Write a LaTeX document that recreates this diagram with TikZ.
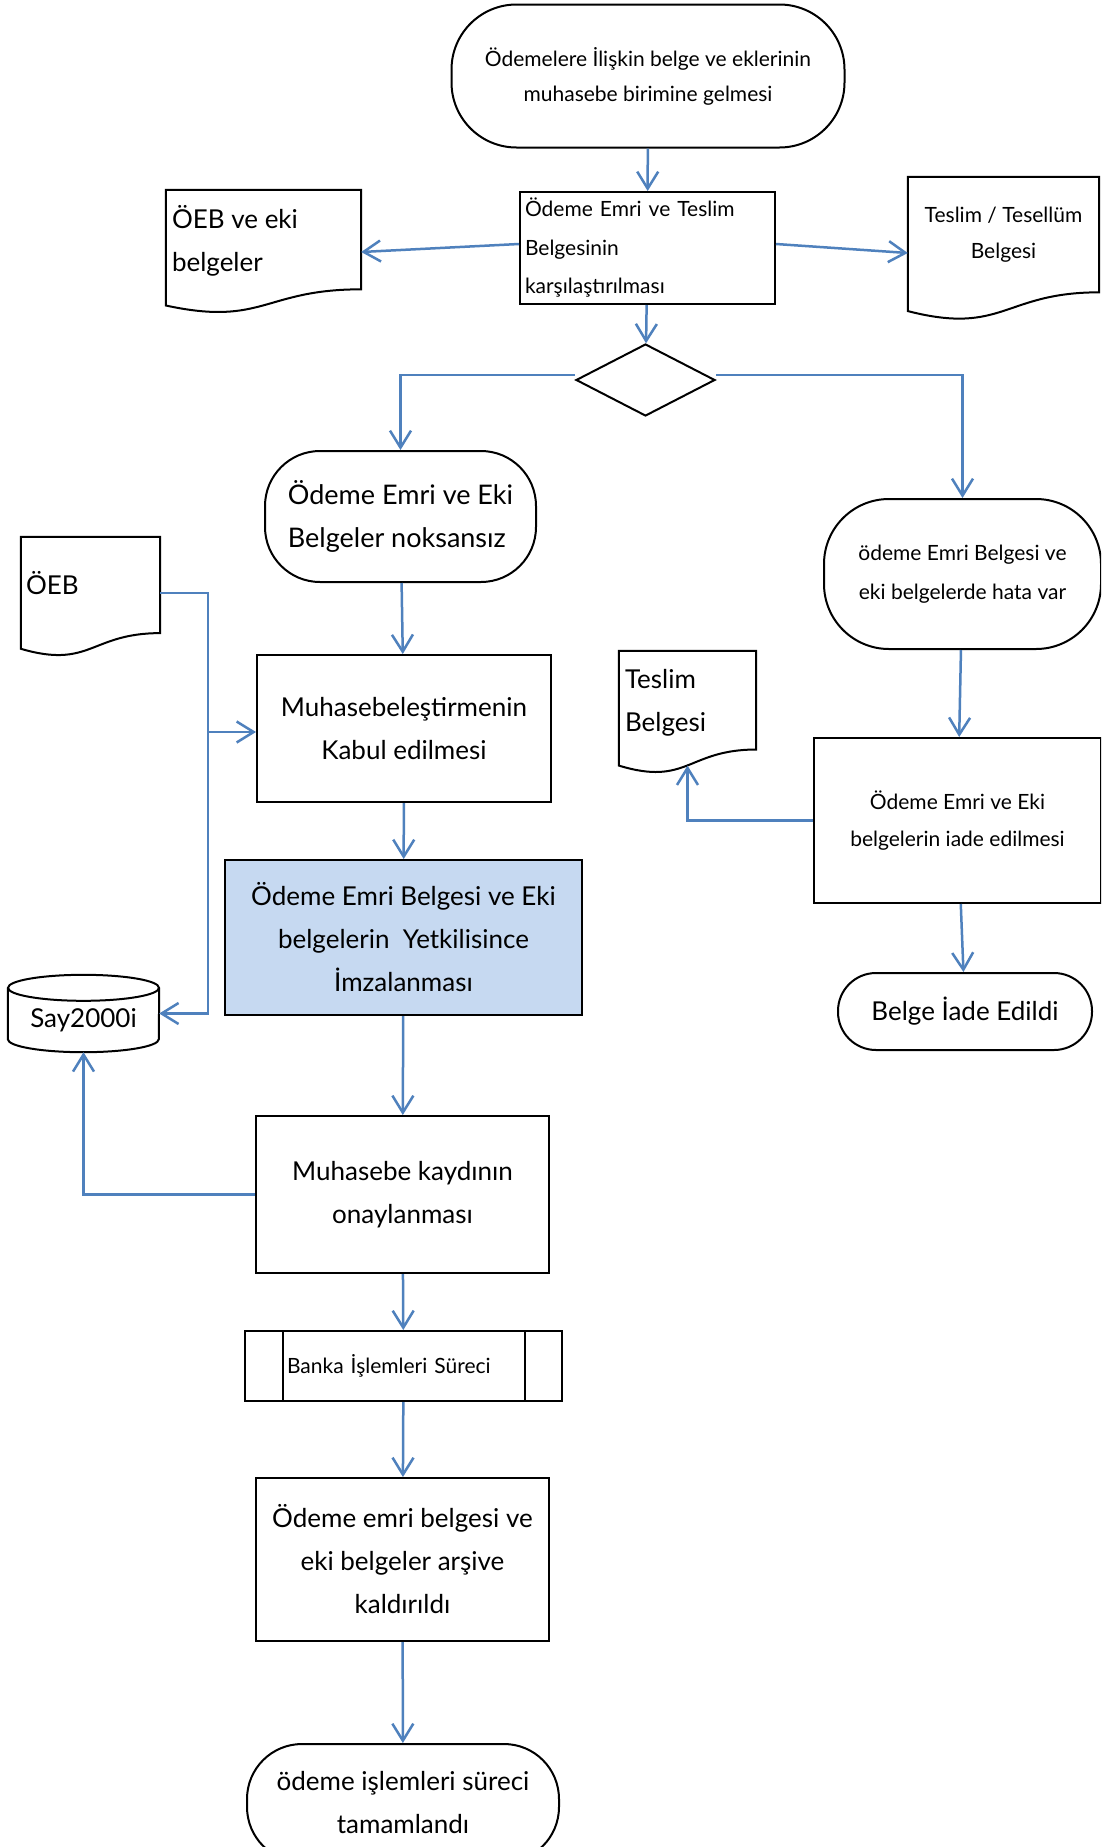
\documentclass[tikz,border=0pt]{standalone}
\usepackage{fontspec}
\setmainfont{Lato}
\usepackage{tikz}
\usetikzlibrary{arrows.meta,positioning,shapes.geometric,calc}

\definecolor{flowblue}{HTML}{4F81BD}
\definecolor{signfill}{HTML}{C6D9F1}

\begin{document}
\begin{tikzpicture}[
    x=1pt, y=-1pt,
    bigtxt/.style={font=\fontsize{26}{43}\selectfont},
    smalltxt/.style={font=\fontsize{21}{37}\selectfont},
    term/.style={draw, line width=2pt, rounded corners=#1, align=center},
    box/.style={draw, line width=2pt, align=center},
    docu/.style={inner sep=0pt},
    arr/.style={-{Straight Barb[length=17pt, width=21pt]}, draw=flowblue, line width=2.5pt},
  ]
    \fill[white] (0,0) rectangle (1101,1847);
    \path[use as bounding box] (0,0) rectangle (1101,1847);
    \clip (0,0) rectangle (1101,1847);

    % start and comparison
    \node[term=65pt, minimum width=393pt, minimum height=143pt,
      font=\fontsize{21}{35}\selectfont] (start) at (648,76)
      {Ödemelere İlişkin belge ve eklerinin\\muhasebe birimine gelmesi};
    \node[box, align=left, text width=245pt, inner xsep=5pt, minimum height=112pt,
      font=\fontsize{21}{38.5}\selectfont] (cmp) at (647.5,248)
      {Ödeme Emri ve Teslim\\Belgesinin\\karşılaştırılması};

    % documents
    \node[docu, minimum width=195pt, minimum height=124pt] (eki) at (263.5,252) {};
    \node[bigtxt, anchor=north west, inner sep=0pt, align=left] (ekitxt)
      at ([shift={(6pt,-15pt)}]eki.north west) {ÖEB ve eki\\belgeler};
    \node[docu, minimum width=191pt, minimum height=144pt] (tt) at (1003.5,249) {};
    \node[anchor=north, inner sep=0pt, align=center, font=\fontsize{21}{36.5}\selectfont] (tttxt)
      at ([yshift=-30pt]tt.north) {Teslim / Tesellüm\\Belgesi};
    \node[docu, minimum width=139pt, minimum height=120pt] (oeb) at (90.5,597) {};
    \node[bigtxt, anchor=north west, inner sep=0pt] (oebtxt)
      at ([shift={(5pt,-34pt)}]oeb.north west) {ÖEB};
    \node[docu, minimum width=137pt, minimum height=123pt] (tb) at (687.5,712.5) {};
    \node[bigtxt, anchor=north west, inner sep=0pt, align=left] (tbtxt)
      at ([shift={(6pt,-18pt)}]tb.north west) {Teslim\\Belgesi};
    \foreach \d in {eki,tt,oeb,tb}{
      \draw[line width=2pt] (\d.north west) -- (\d.north east) -- ($(\d.north east)!0.8!(\d.south east)$)
        .. controls ($(\d.north)!0.8!(\d.south)$) and ($(\d.north)!1.1!(\d.south)$)
        .. ($(\d.north west)!0.93!(\d.south west)$) -- cycle;
    }

    % decision
    \node[draw, diamond, line width=2pt, minimum width=139pt, minimum height=72pt,
      inner sep=0pt] (dec) at (645.5,380) {};
    \node[term=55pt, minimum width=271pt, minimum height=131pt, align=left,
      font=\fontsize{27}{43.5}\selectfont] (nok) at (400.5,516.5)
      {Ödeme Emri ve Eki\\Belgeler noksansız};
    \node[term=65pt, minimum width=277pt, minimum height=150pt,
      font=\fontsize{21}{39}\selectfont] (hata) at (962.5,574)
      {ödeme Emri Belgesi ve\\eki belgelerde hata var};

    % main column
    \node[box, bigtxt, minimum width=294pt, minimum height=147pt] (muh) at (404,728.5)
      {Muhasebeleştirmenin\\Kabul edilmesi};
    \node[box, bigtxt, fill=signfill, minimum width=357pt, minimum height=155pt] (yet) at (403.5,937.5)
      {Ödeme Emri Belgesi ve Eki\\belgelerin~ Yetkilisince\\İmzalanması};
    \node[box, bigtxt, minimum width=293pt, minimum height=157pt] (muhk) at (402.5,1194.5)
      {Muhasebe kaydının\\onaylanması};
    \node[box, align=left, text width=233pt, minimum width=317pt, minimum height=70pt,
      font=\fontsize{21}{25}\selectfont] (banka) at (403.5,1366) {Banka İşlemleri Süreci};
    \draw[line width=2pt] ([xshift=39pt]banka.north west) -- ([xshift=39pt]banka.south west)
      ([xshift=-38pt]banka.north east) -- ([xshift=-38pt]banka.south east);
    \node[box, bigtxt, minimum width=293pt, minimum height=163pt] (arsiv) at (402.5,1559.5)
      {Ödeme emri belgesi ve\\eki belgeler arşive\\kaldırıldı};
    \node[term=55pt, bigtxt, minimum width=312pt, minimum height=118pt] (fin) at (403,1803)
      {ödeme işlemleri süreci\\tamamlandı};

    % database
    \node[docu, minimum width=151pt, minimum height=77pt] (say) at (83.5,1013.5) {};
    \draw[line width=2pt] ([yshift=-13pt]say.north) ellipse [x radius=75.5pt, y radius=13pt];
    \draw[line width=2pt] ([yshift=-13pt]say.north west) -- ([yshift=13pt]say.south west)
      arc[start angle=180, end angle=360, x radius=75.5pt, y radius=13pt]
      -- ([yshift=-13pt]say.north east);
    \node[bigtxt, inner sep=0pt] (saytxt) at ([yshift=-7pt]say.center) {Say2000i};

    % return branch
    \node[box, minimum width=287pt, minimum height=165pt, font=\fontsize{21}{36.5}\selectfont] (iade)
      at (957.5,820.5) {Ödeme Emri ve Eki\\belgelerin iade edilmesi};
    \node[term=38pt, bigtxt, minimum width=254pt, minimum height=77pt] (bie) at (965,1011.5)
      {Belge İade Edildi};

    % connectors
    \draw[arr] (start) -- (cmp);
    \draw[arr] ([yshift=4pt]cmp.west) -- (eki.east);
    \draw[arr] ([yshift=4pt]cmp.east) -- ([yshift=-4pt]tt.west);
    \draw[arr] (cmp) -- (dec);
    \draw[arr] ([yshift=5pt]dec.west) -| (nok.north);
    \draw[arr] ([yshift=5pt]dec.east) -| (hata.north);
    \draw[arr] (nok) -- (muh);
    \coordinate (bus) at (208,732);
    \draw[arr] ([yshift=4pt]oeb.east) -| (bus) |- (say.east);
    \draw[arr] (bus) -- (bus -| muh.west);
    \draw[arr] (muh) -- (yet);
    \draw[arr] (yet) -- (muhk);
    \draw[arr] (muhk.west) -| (say.south);
    \draw[arr] (muhk) -- (banka);
    \draw[arr] (banka) -- (arsiv);
    \draw[arr] (arsiv) -- (fin);
    \draw[arr] (hata) -- (iade);
    \coordinate (tbwave) at ($(tb.north)!0.93!(tb.south)$);
    \draw[arr] (iade.west) -| (tbwave);
    \draw[arr] (iade) -- (bie);
\end{tikzpicture}
\end{document}
